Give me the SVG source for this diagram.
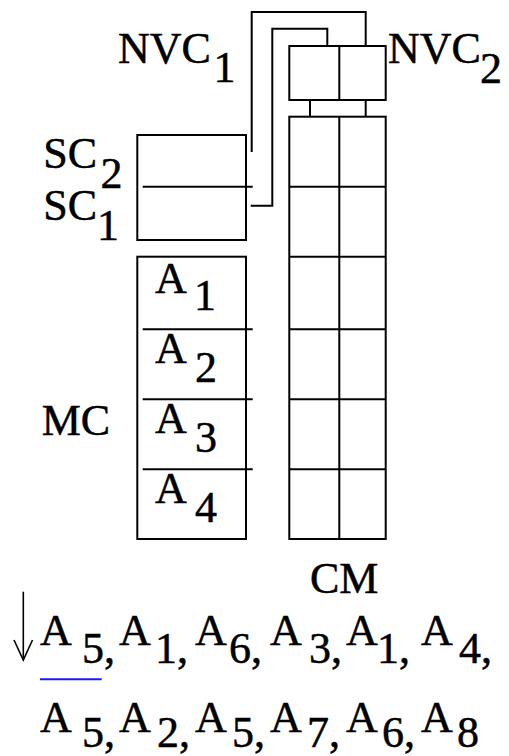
<svg xmlns="http://www.w3.org/2000/svg" width="509" height="756" viewBox="0 0 509 756">
  <style>
    .box { fill: none; stroke: #000; stroke-width: 2; }
    .ln { fill: none; stroke: #000; stroke-width: 2; }
    text { font-family: "Liberation Serif", "Times New Roman", serif; font-size: 44px; fill: #000; stroke: #000; stroke-width: 0.5; }
  </style>
  <rect width="509" height="756" fill="#fff"/>

  <!-- non-volatile cache pair -->
  <g id="nvc">
    <rect class="box" x="289.3" y="46" width="96.4" height="54"/>
    <line class="ln" x1="339.3" y1="46" x2="339.3" y2="100"/>
    <text x="118" y="63.3">NVC</text>
    <text x="213.5" y="81.7">1</text>
    <text x="388" y="63.3">NVC</text>
    <text x="480" y="83">2</text>
  </g>

  <!-- cache memory grid -->
  <g id="cm">
    <rect class="box" x="289.3" y="116.7" width="96.4" height="422.3"/>
    <line class="ln" x1="339.3" y1="116.7" x2="339.3" y2="539"/>
    <line class="ln" x1="289.3" y1="186.7" x2="385.7" y2="186.7"/>
    <line class="ln" x1="289.3" y1="256.7" x2="385.7" y2="256.7"/>
    <line class="ln" x1="289.3" y1="329.3" x2="385.7" y2="329.3"/>
    <line class="ln" x1="289.3" y1="399.3" x2="385.7" y2="399.3"/>
    <line class="ln" x1="289.3" y1="469.3" x2="385.7" y2="469.3"/>
    <text x="310" y="592.7">CM</text>
  </g>

  <!-- shadow cache -->
  <g id="sc">
    <rect class="box" x="137.3" y="135" width="108.7" height="105"/>
    <line class="ln" x1="142.7" y1="186.7" x2="252.7" y2="186.7"/>
    <text x="43.3" y="168.3">SC</text>
    <text x="100.5" y="188.3">2</text>
    <text x="43.3" y="220">SC</text>
    <text x="97" y="240">1</text>
  </g>

  <!-- main cache -->
  <g id="mc">
    <rect class="box" x="137.3" y="256.7" width="108.7" height="282.3"/>
    <line class="ln" x1="142.7" y1="329.3" x2="252.7" y2="329.3"/>
    <line class="ln" x1="142.7" y1="399.3" x2="252.7" y2="399.3"/>
    <line class="ln" x1="142.7" y1="469.3" x2="252.7" y2="469.3"/>
    <text x="41.7" y="435">MC</text>
    <text x="155" y="293.3">A</text><text x="194" y="310">1</text>
    <text x="155" y="363.3">A</text><text x="195" y="381.7">2</text>
    <text x="155" y="433.3">A</text><text x="195" y="451.7">3</text>
    <text x="155" y="503.3">A</text><text x="195" y="521.7">4</text>
  </g>

  <!-- connectors -->
  <g id="connectors">
    <polyline class="ln" points="251.7,152 251.7,12 365.7,12 365.7,46"/>
    <polyline class="ln" points="250.7,205.7 272.3,205.7 272.3,28.7 327.3,28.7 327.3,46"/>
    <line class="ln" x1="310" y1="100" x2="310" y2="116.7"/>
    <line class="ln" x1="365.7" y1="100" x2="365.7" y2="116.7"/>
  </g>

  <!-- access sequence -->
  <g id="sequence">
    <line x1="23.3" y1="591.7" x2="23.3" y2="660" stroke="#000" stroke-width="1.6"/>
    <polyline points="14,640 23.3,660 32.5,640" fill="none" stroke="#000" stroke-width="1.6"/>
    <line x1="40" y1="679.3" x2="101.7" y2="679.3" stroke="#1a1aff" stroke-width="2"/>

    <text x="40" y="645">A</text><text x="82" y="663.3">5,</text>
    <text x="119" y="645">A</text><text x="155" y="663.3">1,</text>
    <text x="195" y="645">A</text><text x="229" y="663.3">6,</text>
    <text x="270" y="645">A</text><text x="309" y="663.3">3,</text>
    <text x="346" y="645">A</text><text x="377" y="663.3">1,</text>
    <text x="421" y="645">A</text><text x="459" y="663.3">4,</text>

    <text x="40" y="731.7">A</text><text x="82" y="747">5,</text>
    <text x="119" y="731.7">A</text><text x="157" y="747">2,</text>
    <text x="195" y="731.7">A</text><text x="232" y="747">5,</text>
    <text x="270" y="731.7">A</text><text x="307" y="747">7,</text>
    <text x="346" y="731.7">A</text><text x="382" y="747">6,</text>
    <text x="421" y="731.7">A</text><text x="457" y="747">8</text>
  </g>
</svg>
